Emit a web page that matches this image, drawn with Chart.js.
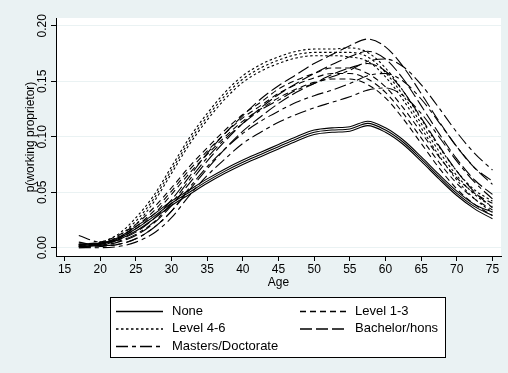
<!DOCTYPE html>
<html>
<head>
<meta charset="utf-8">
<script src="https://cdn.jsdelivr.net/npm/chart.js@4"></script>
<style>
  html, body { margin: 0; padding: 0; background: #eaf2f3; }
  canvas { display: block; }
</style>
</head>
<body>
<canvas id="chart" width="508" height="373"></canvas>
<script>
/* ---------- data ---------- */
const ages = [17, 20, 22.5, 25, 27.5, 30, 32.5, 35, 37.5, 40, 42.5, 45, 47.5, 50, 52.5, 55, 57.5, 60, 62.5, 65, 67.5, 70, 72.5, 75];

const noneMid = [0.002,0.003,0.008,0.017,0.028,0.040,0.050,0.060,0.069,0.077,0.084,0.091,0.098,0.104,0.106,0.107,0.112,0.106,0.095,0.080,0.064,0.049,0.037,0.029];
const noneLo  = [0.001,0.002,0.007,0.015,0.026,0.038,0.048,0.058,0.067,0.075,0.082,0.089,0.096,0.102,0.104,0.105,0.110,0.104,0.093,0.078,0.062,0.047,0.035,0.026];
const noneHi  = [0.003,0.004,0.009,0.019,0.030,0.042,0.052,0.062,0.071,0.079,0.086,0.093,0.100,0.106,0.108,0.109,0.114,0.108,0.097,0.082,0.066,0.051,0.039,0.032];

const lev13Mid = [0.002,0.004,0.009,0.019,0.033,0.051,0.070,0.087,0.103,0.117,0.128,0.139,0.147,0.153,0.157,0.157,0.152,0.140,0.121,0.099,0.077,0.058,0.044,0.034];
const lev13Lo  = [0.001,0.003,0.008,0.017,0.030,0.048,0.067,0.084,0.100,0.114,0.125,0.135,0.143,0.149,0.152,0.152,0.147,0.135,0.116,0.094,0.072,0.053,0.039,0.029];
const lev13Hi  = [0.003,0.005,0.011,0.021,0.036,0.054,0.073,0.090,0.106,0.120,0.131,0.143,0.151,0.157,0.162,0.162,0.157,0.145,0.126,0.104,0.082,0.063,0.049,0.040];

const lev46Mid = [0.002,0.004,0.010,0.024,0.044,0.070,0.096,0.118,0.137,0.152,0.162,0.169,0.174,0.176,0.176,0.176,0.172,0.158,0.137,0.112,0.087,0.065,0.048,0.037];
const lev46Lo  = [0.001,0.003,0.008,0.021,0.041,0.067,0.093,0.115,0.134,0.149,0.159,0.166,0.171,0.173,0.173,0.172,0.168,0.154,0.133,0.108,0.083,0.061,0.044,0.032];
const lev46Hi  = [0.003,0.005,0.012,0.027,0.047,0.073,0.099,0.121,0.140,0.155,0.165,0.172,0.177,0.179,0.179,0.180,0.176,0.162,0.141,0.116,0.091,0.069,0.052,0.042];

const bachMid = [0.001,0.002,0.005,0.011,0.022,0.038,0.058,0.078,0.096,0.112,0.126,0.138,0.148,0.157,0.165,0.172,0.177,0.170,0.152,0.128,0.103,0.080,0.061,0.048];
const bachLo  = [0.000,0.001,0.003,0.008,0.018,0.033,0.052,0.071,0.089,0.105,0.118,0.130,0.140,0.148,0.156,0.162,0.166,0.159,0.141,0.117,0.092,0.069,0.050,0.036];
const bachHi  = [0.003,0.004,0.007,0.014,0.026,0.043,0.064,0.085,0.103,0.119,0.134,0.146,0.156,0.166,0.174,0.182,0.188,0.181,0.163,0.139,0.114,0.091,0.072,0.060];

const mastMid = [0.005,0.002,0.003,0.008,0.018,0.033,0.054,0.073,0.089,0.103,0.114,0.123,0.131,0.137,0.142,0.148,0.155,0.157,0.150,0.134,0.113,0.091,0.072,0.057];
const mastLo  = [0.000,0.000,0.001,0.005,0.013,0.027,0.047,0.065,0.080,0.094,0.104,0.113,0.120,0.126,0.131,0.136,0.142,0.144,0.137,0.121,0.100,0.078,0.059,0.044];
const mastHi  = [0.011,0.005,0.006,0.012,0.023,0.040,0.061,0.081,0.098,0.112,0.124,0.133,0.142,0.148,0.154,0.160,0.168,0.170,0.163,0.147,0.126,0.104,0.085,0.070];

const categories = ["None", "Level 1-3", "Level 4-6", "Bachelor/hons", "Masters/Doctorate"];
const xTicks = [15, 20, 25, 30, 35, 40, 45, 50, 55, 60, 65, 70, 75];
const yTicks = [0, 0.05, 0.10, 0.15, 0.20];

/* ---------- styles ---------- */
const FONT = "'Liberation Sans', Arial, Helvetica, sans-serif";
const BG = "#eaf2f3";
const dashes = {
    "None": [],
    "Level 1-3": [6, 4],
    "Level 4-6": [2.5, 2.5],
    "Bachelor/hons": [12, 4],
    "Masters/Doctorate": [12, 4, 4, 4]
};
const bands = {
    "None": [noneMid, noneLo, noneHi],
    "Level 1-3": [lev13Mid, lev13Lo, lev13Hi],
    "Level 4-6": [lev46Mid, lev46Lo, lev46Hi],
    "Bachelor/hons": [bachMid, bachLo, bachHi],
    "Masters/Doctorate": [mastMid, mastLo, mastHi]
};

const toPoints = vals => vals.map((v, i) => ({x: ages[i], y: v}));

const datasets = [];
for (const cat of categories) {
    bands[cat].forEach((vals, k) => {
        datasets.push({
            label: cat,
            inLegend: k === 0,
            data: toPoints(vals),
            borderColor: "#000",
            borderWidth: 1.1,
            borderDash: dashes[cat],
            pointRadius: 0,
            fill: false,
            cubicInterpolationMode: "monotone"
        });
    });
}

//paints stata-like background with white plot region
const backdrop = {
    id: "backdrop",
    beforeDraw(chart) {
        const {ctx, chartArea: a} = chart;
        ctx.save();
        ctx.fillStyle = BG;
        ctx.fillRect(0, 0, chart.width, chart.height);
        ctx.fillStyle = "#fff";
        ctx.fillRect(a.left, a.top, a.right - a.left, a.bottom - a.top);
        ctx.restore();
    }
};

//boxed two-column legend underneath the axis title
const boxLegend = {
    id: "boxLegend",
    afterDraw(chart) {
        const {ctx} = chart;
        const box = {x: 110.5, y: 297.5, w: 335, h: 60};
        const cols = [{line: 116, len: 47, text: 172}, {line: 300, len: 48, text: 355}];
        const rows = [311, 328.5, 346];
        ctx.save();
        ctx.fillStyle = "#fff";
        ctx.fillRect(box.x, box.y, box.w, box.h);
        ctx.strokeStyle = "#000";
        ctx.lineWidth = 1;
        ctx.setLineDash([]);
        ctx.strokeRect(box.x, box.y, box.w, box.h);
        const entries = chart.data.datasets.filter(d => d.inLegend);
        entries.forEach((ds, i) => {
            const c = cols[i % 2], r = rows[Math.floor(i / 2)];
            ctx.beginPath();
            ctx.setLineDash(ds.borderDash);
            ctx.lineWidth = 1.5;
            ctx.moveTo(c.line, r + 0.5);
            ctx.lineTo(c.line + c.len, r + 0.5);
            ctx.stroke();
            ctx.setLineDash([]);
            ctx.fillStyle = "#000";
            ctx.font = "13px " + FONT;
            ctx.textBaseline = "middle";
            ctx.textAlign = "left";
            ctx.fillText(ds.label, c.text, r);
        });
        ctx.restore();
    }
};

Chart.defaults.font.family = FONT;
Chart.defaults.font.size = 12;
Chart.defaults.color = "#000";

new Chart(document.getElementById("chart"), {
    type: "line",
    data: {datasets: datasets},
    options: {
        responsive: false, animation: false, events: [],
        layout: {padding: {left: 0, top: 18, right: 7, bottom: 83}},
        plugins: {legend: {display: false}, tooltip: {enabled: false}},
        scales: {
            x: {
                type: "linear", position: "bottom", min: 13.8, max: 76.2,
                afterBuildTicks: s => { s.ticks = xTicks.map(v => ({value: v})); },
                afterFit: s => { s.height = 34; },
                ticks: {padding: 1, maxRotation: 0, font: {size: 12}, color: "#000"},
                grid: {drawOnChartArea: false, tickLength: 5, color: "#000"},
                border: {color: "#000", width: 1},
                title: {display: true, text: "Age", color: "#000", font: {size: 12}, padding: {top: 0, bottom: 0}}
            },
            y: {
                type: "linear", position: "left", min: -0.0075, max: 0.207,
                afterBuildTicks: s => { s.ticks = yTicks.map(v => ({value: v})); },
                afterFit: s => { s.width = 56; },
                ticks: {
                    minRotation: 90, maxRotation: 90, crossAlign: "center", padding: -3,
                    callback: v => v.toFixed(2), font: {size: 12}, color: "#000"
                },
                grid: {color: BG, tickColor: "#000", tickLength: 5},
                border: {color: "#000", width: 1},
                title: {display: true, text: "p(working proprietor)", color: "#000", font: {size: 12}, padding: {top: 23, bottom: 0}}
            }
        }
    },
    plugins: [backdrop, boxLegend]
});
</script>
</body>
</html>
